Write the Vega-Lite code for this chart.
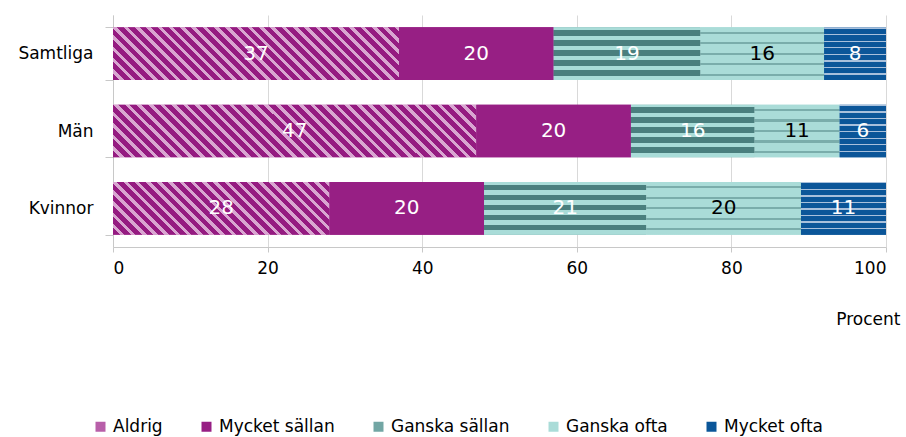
{
  "$schema": "https://vega.github.io/schema/vega-lite/v6.json",
  "width": 773,
  "height": 232,
  "autosize": {"type": "none"},
  "padding": {"left": 113, "top": 15, "right": 20, "bottom": 190},
  "background": "white",
  "config": {
    "view": {"stroke": null},
    "font": "DejaVu Sans",
    "axis": {"labelFont": "DejaVu Sans", "titleFont": "DejaVu Sans", "labelColor": "#000000", "titleColor": "#000000", "domainColor": "#c8c8c8", "tickColor": "#c8c8c8"},
    "legend": {"labelFont": "DejaVu Sans", "labelColor": "#000000"}
  },
  "data": {
    "values": [
      {"Grupp": "Samtliga", "Kategori": "Aldrig", "Procent": 37, "ordning": 1},
      {"Grupp": "Samtliga", "Kategori": "Mycket sällan", "Procent": 20, "ordning": 2},
      {"Grupp": "Samtliga", "Kategori": "Ganska sällan", "Procent": 19, "ordning": 3},
      {"Grupp": "Samtliga", "Kategori": "Ganska ofta", "Procent": 16, "ordning": 4},
      {"Grupp": "Samtliga", "Kategori": "Mycket ofta", "Procent": 8, "ordning": 5},
      {"Grupp": "Män", "Kategori": "Aldrig", "Procent": 47, "ordning": 1},
      {"Grupp": "Män", "Kategori": "Mycket sällan", "Procent": 20, "ordning": 2},
      {"Grupp": "Män", "Kategori": "Ganska sällan", "Procent": 16, "ordning": 3},
      {"Grupp": "Män", "Kategori": "Ganska ofta", "Procent": 11, "ordning": 4},
      {"Grupp": "Män", "Kategori": "Mycket ofta", "Procent": 6, "ordning": 5},
      {"Grupp": "Kvinnor", "Kategori": "Aldrig", "Procent": 28, "ordning": 1},
      {"Grupp": "Kvinnor", "Kategori": "Mycket sällan", "Procent": 20, "ordning": 2},
      {"Grupp": "Kvinnor", "Kategori": "Ganska sällan", "Procent": 21, "ordning": 3},
      {"Grupp": "Kvinnor", "Kategori": "Ganska ofta", "Procent": 20, "ordning": 4},
      {"Grupp": "Kvinnor", "Kategori": "Mycket ofta", "Procent": 11, "ordning": 5}
    ]
  },
  "transform": [
    {"stack": "Procent", "groupby": ["Grupp"], "sort": [{"field": "ordning", "order": "ascending"}], "as": ["x0", "x1"]}
  ],
  "encoding": {
    "y": {
      "field": "Grupp", "type": "nominal", "sort": ["Samtliga", "Män", "Kvinnor"],
      "scale": {"paddingInner": 0.32, "paddingOuter": 0.16},
      "axis": {"title": null, "labelFontSize": 17, "tickBand": "extent", "tickSize": 8, "labelPadding": 12, "grid": false}
    }
  },
  "layer": [
    {
      "mark": {"type": "bar"},
      "encoding": {
        "x": {
          "field": "x0", "type": "quantitative",
          "scale": {"domain": [0, 100], "nice": false},
          "axis": {"title": "Procent", "values": [0, 20, 40, 60, 80, 100], "labelFontSize": 17, "tickSize": 5, "labelPadding": 8, "grid": true, "gridColor": "#d9d9d9", "titleFontSize": 17, "titleFontWeight": "normal", "titleAnchor": "end", "titleAlign": "right", "titleX": 787, "titleY": 77, "titleBaseline": "alphabetic"}
        },
        "x2": {"field": "x1"},
        "color": {
          "field": "Kategori", "type": "nominal",
          "sort": ["Aldrig", "Mycket sällan", "Ganska sällan", "Ganska ofta", "Mycket ofta"],
          "scale": {
            "domain": ["Aldrig", "Mycket sällan", "Ganska sällan", "Ganska ofta", "Mycket ofta"],
            "range": ["#b85fa9", "#971f84", "#72a6a4", "#aadcd8", "#0b5699"]
          },
          "legend": {
            "title": null, "orient": "none", "legendX": -21, "legendY": 403, "direction": "horizontal",
            "symbolType": "square", "symbolSize": 100, "symbolStrokeWidth": 0, "symbolOpacity": 1, "labelFontSize": 17, "labelOffset": 4, "columnPadding": 35
          }
        }
      }
    },
    {
      "mark": {"type": "bar"},
      "encoding": {
        "x": {"field": "x0", "type": "quantitative"},
        "x2": {"field": "x1"},
        "fill": {
          "condition": [
            {"test": "datum.Kategori === 'Aldrig' && datum.Grupp === 'Samtliga'", "value": {"gradient": "linear", "x1": 0, "y1": 1, "x2": 1.1452, "y2": 0.7893, "stops": [
                {"offset": 0, "color": "#951b81"}, {"offset": 0.02, "color": "#951b81"}, {"offset": 0.02, "color": "#d9a6d1"}, {"offset": 0.03333, "color": "#d9a6d1"},
                {"offset": 0.03333, "color": "#951b81"}, {"offset": 0.05333, "color": "#951b81"}, {"offset": 0.05333, "color": "#d9a6d1"}, {"offset": 0.06667, "color": "#d9a6d1"},
                {"offset": 0.06667, "color": "#951b81"}, {"offset": 0.08667, "color": "#951b81"}, {"offset": 0.08667, "color": "#d9a6d1"}, {"offset": 0.1, "color": "#d9a6d1"},
                {"offset": 0.1, "color": "#951b81"}, {"offset": 0.12, "color": "#951b81"}, {"offset": 0.12, "color": "#d9a6d1"}, {"offset": 0.13333, "color": "#d9a6d1"},
                {"offset": 0.13333, "color": "#951b81"}, {"offset": 0.15333, "color": "#951b81"}, {"offset": 0.15333, "color": "#d9a6d1"}, {"offset": 0.16667, "color": "#d9a6d1"},
                {"offset": 0.16667, "color": "#951b81"}, {"offset": 0.18667, "color": "#951b81"}, {"offset": 0.18667, "color": "#d9a6d1"}, {"offset": 0.2, "color": "#d9a6d1"},
                {"offset": 0.2, "color": "#951b81"}, {"offset": 0.22, "color": "#951b81"}, {"offset": 0.22, "color": "#d9a6d1"}, {"offset": 0.23333, "color": "#d9a6d1"},
                {"offset": 0.23333, "color": "#951b81"}, {"offset": 0.25333, "color": "#951b81"}, {"offset": 0.25333, "color": "#d9a6d1"}, {"offset": 0.26667, "color": "#d9a6d1"},
                {"offset": 0.26667, "color": "#951b81"}, {"offset": 0.28667, "color": "#951b81"}, {"offset": 0.28667, "color": "#d9a6d1"}, {"offset": 0.3, "color": "#d9a6d1"},
                {"offset": 0.3, "color": "#951b81"}, {"offset": 0.32, "color": "#951b81"}, {"offset": 0.32, "color": "#d9a6d1"}, {"offset": 0.33333, "color": "#d9a6d1"},
                {"offset": 0.33333, "color": "#951b81"}, {"offset": 0.35333, "color": "#951b81"}, {"offset": 0.35333, "color": "#d9a6d1"}, {"offset": 0.36667, "color": "#d9a6d1"},
                {"offset": 0.36667, "color": "#951b81"}, {"offset": 0.38667, "color": "#951b81"}, {"offset": 0.38667, "color": "#d9a6d1"}, {"offset": 0.4, "color": "#d9a6d1"},
                {"offset": 0.4, "color": "#951b81"}, {"offset": 0.42, "color": "#951b81"}, {"offset": 0.42, "color": "#d9a6d1"}, {"offset": 0.43333, "color": "#d9a6d1"},
                {"offset": 0.43333, "color": "#951b81"}, {"offset": 0.45333, "color": "#951b81"}, {"offset": 0.45333, "color": "#d9a6d1"}, {"offset": 0.46667, "color": "#d9a6d1"},
                {"offset": 0.46667, "color": "#951b81"}, {"offset": 0.48667, "color": "#951b81"}, {"offset": 0.48667, "color": "#d9a6d1"}, {"offset": 0.5, "color": "#d9a6d1"},
                {"offset": 0.5, "color": "#951b81"}, {"offset": 0.52, "color": "#951b81"}, {"offset": 0.52, "color": "#d9a6d1"}, {"offset": 0.53333, "color": "#d9a6d1"},
                {"offset": 0.53333, "color": "#951b81"}, {"offset": 0.55333, "color": "#951b81"}, {"offset": 0.55333, "color": "#d9a6d1"}, {"offset": 0.56667, "color": "#d9a6d1"},
                {"offset": 0.56667, "color": "#951b81"}, {"offset": 0.58667, "color": "#951b81"}, {"offset": 0.58667, "color": "#d9a6d1"}, {"offset": 0.6, "color": "#d9a6d1"},
                {"offset": 0.6, "color": "#951b81"}, {"offset": 0.62, "color": "#951b81"}, {"offset": 0.62, "color": "#d9a6d1"}, {"offset": 0.63333, "color": "#d9a6d1"},
                {"offset": 0.63333, "color": "#951b81"}, {"offset": 0.65333, "color": "#951b81"}, {"offset": 0.65333, "color": "#d9a6d1"}, {"offset": 0.66667, "color": "#d9a6d1"},
                {"offset": 0.66667, "color": "#951b81"}, {"offset": 0.68667, "color": "#951b81"}, {"offset": 0.68667, "color": "#d9a6d1"}, {"offset": 0.7, "color": "#d9a6d1"},
                {"offset": 0.7, "color": "#951b81"}, {"offset": 0.72, "color": "#951b81"}, {"offset": 0.72, "color": "#d9a6d1"}, {"offset": 0.73333, "color": "#d9a6d1"},
                {"offset": 0.73333, "color": "#951b81"}, {"offset": 0.75333, "color": "#951b81"}, {"offset": 0.75333, "color": "#d9a6d1"}, {"offset": 0.76667, "color": "#d9a6d1"},
                {"offset": 0.76667, "color": "#951b81"}, {"offset": 0.78667, "color": "#951b81"}, {"offset": 0.78667, "color": "#d9a6d1"}, {"offset": 0.8, "color": "#d9a6d1"},
                {"offset": 0.8, "color": "#951b81"}, {"offset": 0.82, "color": "#951b81"}, {"offset": 0.82, "color": "#d9a6d1"}, {"offset": 0.83333, "color": "#d9a6d1"},
                {"offset": 0.83333, "color": "#951b81"}, {"offset": 0.85333, "color": "#951b81"}, {"offset": 0.85333, "color": "#d9a6d1"}, {"offset": 0.86667, "color": "#d9a6d1"},
                {"offset": 0.86667, "color": "#951b81"}, {"offset": 0.88667, "color": "#951b81"}, {"offset": 0.88667, "color": "#d9a6d1"}, {"offset": 0.9, "color": "#d9a6d1"},
                {"offset": 0.9, "color": "#951b81"}, {"offset": 0.92, "color": "#951b81"}, {"offset": 0.92, "color": "#d9a6d1"}, {"offset": 0.93333, "color": "#d9a6d1"},
                {"offset": 0.93333, "color": "#951b81"}, {"offset": 0.95333, "color": "#951b81"}, {"offset": 0.95333, "color": "#d9a6d1"}, {"offset": 0.96667, "color": "#d9a6d1"},
                {"offset": 0.96667, "color": "#951b81"}, {"offset": 0.98667, "color": "#951b81"}, {"offset": 0.98667, "color": "#d9a6d1"}, {"offset": 1, "color": "#d9a6d1"}
              ]}},
            {"test": "datum.Kategori === 'Aldrig' && datum.Grupp === 'Män'", "value": {"gradient": "linear", "x1": 0, "y1": 1, "x2": 1.1212, "y2": 0.8376, "stops": [
                {"offset": 0, "color": "#951b81"}, {"offset": 0.01667, "color": "#951b81"}, {"offset": 0.01667, "color": "#d9a6d1"}, {"offset": 0.02778, "color": "#d9a6d1"},
                {"offset": 0.02778, "color": "#951b81"}, {"offset": 0.04444, "color": "#951b81"}, {"offset": 0.04444, "color": "#d9a6d1"}, {"offset": 0.05556, "color": "#d9a6d1"},
                {"offset": 0.05556, "color": "#951b81"}, {"offset": 0.07222, "color": "#951b81"}, {"offset": 0.07222, "color": "#d9a6d1"}, {"offset": 0.08333, "color": "#d9a6d1"},
                {"offset": 0.08333, "color": "#951b81"}, {"offset": 0.1, "color": "#951b81"}, {"offset": 0.1, "color": "#d9a6d1"}, {"offset": 0.11111, "color": "#d9a6d1"},
                {"offset": 0.11111, "color": "#951b81"}, {"offset": 0.12778, "color": "#951b81"}, {"offset": 0.12778, "color": "#d9a6d1"}, {"offset": 0.13889, "color": "#d9a6d1"},
                {"offset": 0.13889, "color": "#951b81"}, {"offset": 0.15556, "color": "#951b81"}, {"offset": 0.15556, "color": "#d9a6d1"}, {"offset": 0.16667, "color": "#d9a6d1"},
                {"offset": 0.16667, "color": "#951b81"}, {"offset": 0.18333, "color": "#951b81"}, {"offset": 0.18333, "color": "#d9a6d1"}, {"offset": 0.19444, "color": "#d9a6d1"},
                {"offset": 0.19444, "color": "#951b81"}, {"offset": 0.21111, "color": "#951b81"}, {"offset": 0.21111, "color": "#d9a6d1"}, {"offset": 0.22222, "color": "#d9a6d1"},
                {"offset": 0.22222, "color": "#951b81"}, {"offset": 0.23889, "color": "#951b81"}, {"offset": 0.23889, "color": "#d9a6d1"}, {"offset": 0.25, "color": "#d9a6d1"},
                {"offset": 0.25, "color": "#951b81"}, {"offset": 0.26667, "color": "#951b81"}, {"offset": 0.26667, "color": "#d9a6d1"}, {"offset": 0.27778, "color": "#d9a6d1"},
                {"offset": 0.27778, "color": "#951b81"}, {"offset": 0.29444, "color": "#951b81"}, {"offset": 0.29444, "color": "#d9a6d1"}, {"offset": 0.30556, "color": "#d9a6d1"},
                {"offset": 0.30556, "color": "#951b81"}, {"offset": 0.32222, "color": "#951b81"}, {"offset": 0.32222, "color": "#d9a6d1"}, {"offset": 0.33333, "color": "#d9a6d1"},
                {"offset": 0.33333, "color": "#951b81"}, {"offset": 0.35, "color": "#951b81"}, {"offset": 0.35, "color": "#d9a6d1"}, {"offset": 0.36111, "color": "#d9a6d1"},
                {"offset": 0.36111, "color": "#951b81"}, {"offset": 0.37778, "color": "#951b81"}, {"offset": 0.37778, "color": "#d9a6d1"}, {"offset": 0.38889, "color": "#d9a6d1"},
                {"offset": 0.38889, "color": "#951b81"}, {"offset": 0.40556, "color": "#951b81"}, {"offset": 0.40556, "color": "#d9a6d1"}, {"offset": 0.41667, "color": "#d9a6d1"},
                {"offset": 0.41667, "color": "#951b81"}, {"offset": 0.43333, "color": "#951b81"}, {"offset": 0.43333, "color": "#d9a6d1"}, {"offset": 0.44444, "color": "#d9a6d1"},
                {"offset": 0.44444, "color": "#951b81"}, {"offset": 0.46111, "color": "#951b81"}, {"offset": 0.46111, "color": "#d9a6d1"}, {"offset": 0.47222, "color": "#d9a6d1"},
                {"offset": 0.47222, "color": "#951b81"}, {"offset": 0.48889, "color": "#951b81"}, {"offset": 0.48889, "color": "#d9a6d1"}, {"offset": 0.5, "color": "#d9a6d1"},
                {"offset": 0.5, "color": "#951b81"}, {"offset": 0.51667, "color": "#951b81"}, {"offset": 0.51667, "color": "#d9a6d1"}, {"offset": 0.52778, "color": "#d9a6d1"},
                {"offset": 0.52778, "color": "#951b81"}, {"offset": 0.54444, "color": "#951b81"}, {"offset": 0.54444, "color": "#d9a6d1"}, {"offset": 0.55556, "color": "#d9a6d1"},
                {"offset": 0.55556, "color": "#951b81"}, {"offset": 0.57222, "color": "#951b81"}, {"offset": 0.57222, "color": "#d9a6d1"}, {"offset": 0.58333, "color": "#d9a6d1"},
                {"offset": 0.58333, "color": "#951b81"}, {"offset": 0.6, "color": "#951b81"}, {"offset": 0.6, "color": "#d9a6d1"}, {"offset": 0.61111, "color": "#d9a6d1"},
                {"offset": 0.61111, "color": "#951b81"}, {"offset": 0.62778, "color": "#951b81"}, {"offset": 0.62778, "color": "#d9a6d1"}, {"offset": 0.63889, "color": "#d9a6d1"},
                {"offset": 0.63889, "color": "#951b81"}, {"offset": 0.65556, "color": "#951b81"}, {"offset": 0.65556, "color": "#d9a6d1"}, {"offset": 0.66667, "color": "#d9a6d1"},
                {"offset": 0.66667, "color": "#951b81"}, {"offset": 0.68333, "color": "#951b81"}, {"offset": 0.68333, "color": "#d9a6d1"}, {"offset": 0.69444, "color": "#d9a6d1"},
                {"offset": 0.69444, "color": "#951b81"}, {"offset": 0.71111, "color": "#951b81"}, {"offset": 0.71111, "color": "#d9a6d1"}, {"offset": 0.72222, "color": "#d9a6d1"},
                {"offset": 0.72222, "color": "#951b81"}, {"offset": 0.73889, "color": "#951b81"}, {"offset": 0.73889, "color": "#d9a6d1"}, {"offset": 0.75, "color": "#d9a6d1"},
                {"offset": 0.75, "color": "#951b81"}, {"offset": 0.76667, "color": "#951b81"}, {"offset": 0.76667, "color": "#d9a6d1"}, {"offset": 0.77778, "color": "#d9a6d1"},
                {"offset": 0.77778, "color": "#951b81"}, {"offset": 0.79444, "color": "#951b81"}, {"offset": 0.79444, "color": "#d9a6d1"}, {"offset": 0.80556, "color": "#d9a6d1"},
                {"offset": 0.80556, "color": "#951b81"}, {"offset": 0.82222, "color": "#951b81"}, {"offset": 0.82222, "color": "#d9a6d1"}, {"offset": 0.83333, "color": "#d9a6d1"},
                {"offset": 0.83333, "color": "#951b81"}, {"offset": 0.85, "color": "#951b81"}, {"offset": 0.85, "color": "#d9a6d1"}, {"offset": 0.86111, "color": "#d9a6d1"},
                {"offset": 0.86111, "color": "#951b81"}, {"offset": 0.87778, "color": "#951b81"}, {"offset": 0.87778, "color": "#d9a6d1"}, {"offset": 0.88889, "color": "#d9a6d1"},
                {"offset": 0.88889, "color": "#951b81"}, {"offset": 0.90556, "color": "#951b81"}, {"offset": 0.90556, "color": "#d9a6d1"}, {"offset": 0.91667, "color": "#d9a6d1"},
                {"offset": 0.91667, "color": "#951b81"}, {"offset": 0.93333, "color": "#951b81"}, {"offset": 0.93333, "color": "#d9a6d1"}, {"offset": 0.94444, "color": "#d9a6d1"},
                {"offset": 0.94444, "color": "#951b81"}, {"offset": 0.96111, "color": "#951b81"}, {"offset": 0.96111, "color": "#d9a6d1"}, {"offset": 0.97222, "color": "#d9a6d1"},
                {"offset": 0.97222, "color": "#951b81"}, {"offset": 0.98889, "color": "#951b81"}, {"offset": 0.98889, "color": "#d9a6d1"}, {"offset": 1, "color": "#d9a6d1"}
              ]}},
            {"test": "datum.Kategori === 'Aldrig' && datum.Grupp === 'Kvinnor'", "value": {"gradient": "linear", "x1": 0, "y1": 1, "x2": 1.1738, "y2": 0.7148, "stops": [
                {"offset": 0, "color": "#951b81"}, {"offset": 0.025, "color": "#951b81"}, {"offset": 0.025, "color": "#d9a6d1"}, {"offset": 0.04167, "color": "#d9a6d1"},
                {"offset": 0.04167, "color": "#951b81"}, {"offset": 0.06667, "color": "#951b81"}, {"offset": 0.06667, "color": "#d9a6d1"}, {"offset": 0.08333, "color": "#d9a6d1"},
                {"offset": 0.08333, "color": "#951b81"}, {"offset": 0.10833, "color": "#951b81"}, {"offset": 0.10833, "color": "#d9a6d1"}, {"offset": 0.125, "color": "#d9a6d1"},
                {"offset": 0.125, "color": "#951b81"}, {"offset": 0.15, "color": "#951b81"}, {"offset": 0.15, "color": "#d9a6d1"}, {"offset": 0.16667, "color": "#d9a6d1"},
                {"offset": 0.16667, "color": "#951b81"}, {"offset": 0.19167, "color": "#951b81"}, {"offset": 0.19167, "color": "#d9a6d1"}, {"offset": 0.20833, "color": "#d9a6d1"},
                {"offset": 0.20833, "color": "#951b81"}, {"offset": 0.23333, "color": "#951b81"}, {"offset": 0.23333, "color": "#d9a6d1"}, {"offset": 0.25, "color": "#d9a6d1"},
                {"offset": 0.25, "color": "#951b81"}, {"offset": 0.275, "color": "#951b81"}, {"offset": 0.275, "color": "#d9a6d1"}, {"offset": 0.29167, "color": "#d9a6d1"},
                {"offset": 0.29167, "color": "#951b81"}, {"offset": 0.31667, "color": "#951b81"}, {"offset": 0.31667, "color": "#d9a6d1"}, {"offset": 0.33333, "color": "#d9a6d1"},
                {"offset": 0.33333, "color": "#951b81"}, {"offset": 0.35833, "color": "#951b81"}, {"offset": 0.35833, "color": "#d9a6d1"}, {"offset": 0.375, "color": "#d9a6d1"},
                {"offset": 0.375, "color": "#951b81"}, {"offset": 0.4, "color": "#951b81"}, {"offset": 0.4, "color": "#d9a6d1"}, {"offset": 0.41667, "color": "#d9a6d1"},
                {"offset": 0.41667, "color": "#951b81"}, {"offset": 0.44167, "color": "#951b81"}, {"offset": 0.44167, "color": "#d9a6d1"}, {"offset": 0.45833, "color": "#d9a6d1"},
                {"offset": 0.45833, "color": "#951b81"}, {"offset": 0.48333, "color": "#951b81"}, {"offset": 0.48333, "color": "#d9a6d1"}, {"offset": 0.5, "color": "#d9a6d1"},
                {"offset": 0.5, "color": "#951b81"}, {"offset": 0.525, "color": "#951b81"}, {"offset": 0.525, "color": "#d9a6d1"}, {"offset": 0.54167, "color": "#d9a6d1"},
                {"offset": 0.54167, "color": "#951b81"}, {"offset": 0.56667, "color": "#951b81"}, {"offset": 0.56667, "color": "#d9a6d1"}, {"offset": 0.58333, "color": "#d9a6d1"},
                {"offset": 0.58333, "color": "#951b81"}, {"offset": 0.60833, "color": "#951b81"}, {"offset": 0.60833, "color": "#d9a6d1"}, {"offset": 0.625, "color": "#d9a6d1"},
                {"offset": 0.625, "color": "#951b81"}, {"offset": 0.65, "color": "#951b81"}, {"offset": 0.65, "color": "#d9a6d1"}, {"offset": 0.66667, "color": "#d9a6d1"},
                {"offset": 0.66667, "color": "#951b81"}, {"offset": 0.69167, "color": "#951b81"}, {"offset": 0.69167, "color": "#d9a6d1"}, {"offset": 0.70833, "color": "#d9a6d1"},
                {"offset": 0.70833, "color": "#951b81"}, {"offset": 0.73333, "color": "#951b81"}, {"offset": 0.73333, "color": "#d9a6d1"}, {"offset": 0.75, "color": "#d9a6d1"},
                {"offset": 0.75, "color": "#951b81"}, {"offset": 0.775, "color": "#951b81"}, {"offset": 0.775, "color": "#d9a6d1"}, {"offset": 0.79167, "color": "#d9a6d1"},
                {"offset": 0.79167, "color": "#951b81"}, {"offset": 0.81667, "color": "#951b81"}, {"offset": 0.81667, "color": "#d9a6d1"}, {"offset": 0.83333, "color": "#d9a6d1"},
                {"offset": 0.83333, "color": "#951b81"}, {"offset": 0.85833, "color": "#951b81"}, {"offset": 0.85833, "color": "#d9a6d1"}, {"offset": 0.875, "color": "#d9a6d1"},
                {"offset": 0.875, "color": "#951b81"}, {"offset": 0.9, "color": "#951b81"}, {"offset": 0.9, "color": "#d9a6d1"}, {"offset": 0.91667, "color": "#d9a6d1"},
                {"offset": 0.91667, "color": "#951b81"}, {"offset": 0.94167, "color": "#951b81"}, {"offset": 0.94167, "color": "#d9a6d1"}, {"offset": 0.95833, "color": "#d9a6d1"},
                {"offset": 0.95833, "color": "#951b81"}, {"offset": 0.98333, "color": "#951b81"}, {"offset": 0.98333, "color": "#d9a6d1"}, {"offset": 1, "color": "#d9a6d1"}
              ]}},
            {"test": "datum.Kategori === 'Ganska sällan'", "value": {"gradient": "linear", "x1": 0.5, "y1": 0, "x2": 0.5, "y2": 1, "stops": [
                {"offset": 0, "color": "#a9dcd8"}, {"offset": 0.05, "color": "#a9dcd8"}, {"offset": 0.05, "color": "#4a7f7e"}, {"offset": 0.16, "color": "#4a7f7e"},
                {"offset": 0.16, "color": "#a9dcd8"}, {"offset": 0.24, "color": "#a9dcd8"}, {"offset": 0.24, "color": "#4a7f7e"}, {"offset": 0.35, "color": "#4a7f7e"},
                {"offset": 0.35, "color": "#a9dcd8"}, {"offset": 0.43, "color": "#a9dcd8"}, {"offset": 0.43, "color": "#4a7f7e"}, {"offset": 0.54, "color": "#4a7f7e"},
                {"offset": 0.54, "color": "#a9dcd8"}, {"offset": 0.62, "color": "#a9dcd8"}, {"offset": 0.62, "color": "#4a7f7e"}, {"offset": 0.73, "color": "#4a7f7e"},
                {"offset": 0.73, "color": "#a9dcd8"}, {"offset": 0.81, "color": "#a9dcd8"}, {"offset": 0.81, "color": "#4a7f7e"}, {"offset": 0.92, "color": "#4a7f7e"},
                {"offset": 0.92, "color": "#a9dcd8"}, {"offset": 1, "color": "#a9dcd8"}
              ]}},
            {"test": "datum.Kategori === 'Ganska ofta'", "value": {"gradient": "linear", "x1": 0.5, "y1": 0, "x2": 0.5, "y2": 1, "stops": [
                {"offset": 0, "color": "#aadcd8"}, {"offset": 0.08, "color": "#aadcd8"}, {"offset": 0.08, "color": "#7aadab"}, {"offset": 0.12, "color": "#7aadab"},
                {"offset": 0.12, "color": "#aadcd8"}, {"offset": 0.28, "color": "#aadcd8"}, {"offset": 0.28, "color": "#7aadab"}, {"offset": 0.32, "color": "#7aadab"},
                {"offset": 0.32, "color": "#aadcd8"}, {"offset": 0.48, "color": "#aadcd8"}, {"offset": 0.48, "color": "#7aadab"}, {"offset": 0.52, "color": "#7aadab"},
                {"offset": 0.52, "color": "#aadcd8"}, {"offset": 0.68, "color": "#aadcd8"}, {"offset": 0.68, "color": "#7aadab"}, {"offset": 0.72, "color": "#7aadab"},
                {"offset": 0.72, "color": "#aadcd8"}, {"offset": 0.88, "color": "#aadcd8"}, {"offset": 0.88, "color": "#7aadab"}, {"offset": 0.92, "color": "#7aadab"},
                {"offset": 0.92, "color": "#aadcd8"}, {"offset": 1, "color": "#aadcd8"}
              ]}},
            {"test": "datum.Kategori === 'Mycket ofta'", "value": {"gradient": "linear", "x1": 0.5, "y1": 0, "x2": 0.5, "y2": 1, "stops": [
                {"offset": 0, "color": "#a8c0dc"}, {"offset": 0.025, "color": "#a8c0dc"}, {"offset": 0.025, "color": "#0b5699"}, {"offset": 0.125, "color": "#0b5699"},
                {"offset": 0.125, "color": "#a8c0dc"}, {"offset": 0.15, "color": "#a8c0dc"}, {"offset": 0.15, "color": "#0b5699"}, {"offset": 0.25, "color": "#0b5699"},
                {"offset": 0.25, "color": "#a8c0dc"}, {"offset": 0.275, "color": "#a8c0dc"}, {"offset": 0.275, "color": "#0b5699"}, {"offset": 0.375, "color": "#0b5699"},
                {"offset": 0.375, "color": "#a8c0dc"}, {"offset": 0.4, "color": "#a8c0dc"}, {"offset": 0.4, "color": "#0b5699"}, {"offset": 0.5, "color": "#0b5699"},
                {"offset": 0.5, "color": "#a8c0dc"}, {"offset": 0.525, "color": "#a8c0dc"}, {"offset": 0.525, "color": "#0b5699"}, {"offset": 0.625, "color": "#0b5699"},
                {"offset": 0.625, "color": "#a8c0dc"}, {"offset": 0.65, "color": "#a8c0dc"}, {"offset": 0.65, "color": "#0b5699"}, {"offset": 0.75, "color": "#0b5699"},
                {"offset": 0.75, "color": "#a8c0dc"}, {"offset": 0.775, "color": "#a8c0dc"}, {"offset": 0.775, "color": "#0b5699"}, {"offset": 0.875, "color": "#0b5699"},
                {"offset": 0.875, "color": "#a8c0dc"}, {"offset": 0.9, "color": "#a8c0dc"}, {"offset": 0.9, "color": "#0b5699"}, {"offset": 1, "color": "#0b5699"}
              ]}}
          ],
          "value": "#971f84"
        }
      }
    },
    {
      "transform": [{"calculate": "(datum.x0 + datum.x1) / 2", "as": "xmid"}],
      "mark": {"type": "text", "fontSize": 20, "font": "DejaVu Sans", "baseline": "middle", "align": "center"},
      "encoding": {
        "x": {"field": "xmid", "type": "quantitative"},
        "text": {"field": "Procent", "type": "quantitative"},
        "color": {"condition": {"test": "datum.Kategori === 'Ganska ofta'", "value": "#000000"}, "value": "#ffffff"}
      }
    }
  ]
}
